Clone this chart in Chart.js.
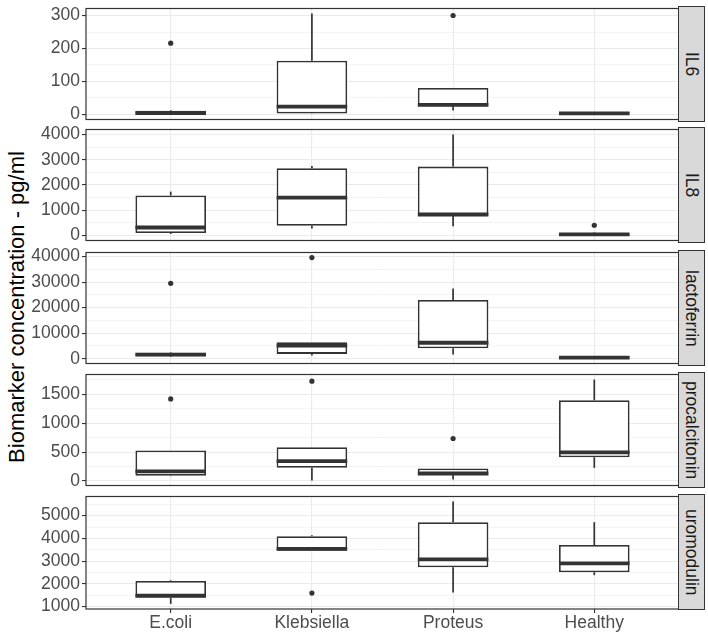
<!DOCTYPE html>
<html>
<head>
<meta charset="utf-8">
<script src="https://cdn.jsdelivr.net/npm/chart.js@4.4.1/dist/chart.umd.min.js"></script>
<style>
  html, body { margin: 0; padding: 0; background: #fff; }
  #wrap { position: relative; width: 708px; height: 635px; overflow: hidden; font-family: 'Liberation Sans', Arial, sans-serif; }
  #wrap canvas { position: absolute; left: 0; }
  .strip { position: absolute; left: 678px; width: 27px; background: #d9d9d9; border: 1.2px solid #333; box-sizing: border-box;
           display: flex; align-items: center; justify-content: center; }
  .strip span { writing-mode: vertical-rl; font-size: 17.5px; color: #1a1a1a; white-space: nowrap; }
  #ytitle { position: absolute; left: 17px; top: 307px; transform: translate(-50%, -50%) rotate(-90deg);
            white-space: nowrap; font-size: 22px; color: #000; }
</style>
</head>
<body>
<div id="wrap">
  <div id="ytitle">Biomarker concentration - pg/ml</div>
</div>
<script>
// categories (x) and facet names
const categories = ['E.coli', 'Klebsiella', 'Proteus', 'Healthy'];
const panelNames = ['IL6', 'IL8', 'lactoferrin', 'procalcitonin', 'uromodulin'];

// box statistics, one row per panel, one value per category
const whiskerLow = [
  [0, 2, 12, 0],
  [60, 278, 366, 0],
  [700, 1270, 1650, 100],
  [84, 10, 28, 228],
  [1115, 3460, 1617, 2381]
];
const quart1 = [
  [0.5, 3, 25, 1],
  [100, 381, 790, 10],
  [1000, 1875, 4100, 200],
  [90, 228, 105, 412],
  [1380, 3460, 2726, 2510]
];
const medians = [
  [4, 24, 29, 3],
  [316, 1497, 830, 40],
  [1600, 5100, 6250, 400],
  [167, 345, 130, 495],
  [1475, 3533, 3072, 2899]
];
const quart3 = [
  [11, 163, 80, 6],
  [1585, 2667, 2730, 80],
  [2300, 6400, 23000, 700],
  [530, 585, 217, 1400],
  [2122, 4094, 4712, 3706]
];
const whiskerHigh = [
  [13, 306, 80, 7],
  [1737, 2754, 4000, 120],
  [2500, 6400, 27500, 900],
  [530, 585, 217, 1757],
  [2150, 4137, 5618, 4712]
];
const outliers = [
  [216, null, 300, null],
  [null, null, null, 404],
  [29500, 39600, null, null],
  [1422, 1729, 736, null],
  [null, 1590, null, null]
];

// major y tick labels per panel
const yTicks = [
  [0, 100, 200, 300],
  [0, 1000, 2000, 3000, 4000],
  [0, 10000, 20000, 30000, 40000],
  [0, 500, 1000, 1500],
  [1000, 2000, 3000, 4000, 5000]
];

// layout of the facets
const panelTops = [6, 127, 250, 372, 494];
const panelHeight = 116;
const pad = 10;
const FONT = "'Liberation Sans', Arial, sans-serif";
const ink = '#333333';

Chart.defaults.font.family = FONT;

const boxExtras = {
  id: 'boxExtras',
  afterDatasetsDraw(chart, args, opts) {
    const p = opts.panel;
    const ctx = chart.ctx;
    const y = chart.scales.y;
    const meta = chart.getDatasetMeta(0);
    const seg = (x1, y1, x2, y2) => { ctx.beginPath(); ctx.moveTo(x1, y1); ctx.lineTo(x2, y2); ctx.stroke(); };
    ctx.save();
    ctx.strokeStyle = ink;
    meta.data.forEach((bar, i) => {
      const half = bar.width / 2;
      ctx.lineWidth = 1.7;
      seg(bar.x, y.getPixelForValue(quart3[p][i]), bar.x, y.getPixelForValue(whiskerHigh[p][i]));
      seg(bar.x, y.getPixelForValue(quart1[p][i]), bar.x, y.getPixelForValue(whiskerLow[p][i]));
      ctx.lineWidth = 3.8;
      const ym = y.getPixelForValue(medians[p][i]);
      seg(bar.x - half, ym, bar.x + half, ym);
    });
    const a = chart.chartArea;
    ctx.lineWidth = 1.2;
    ctx.strokeRect(a.left, a.top, a.right - a.left, a.bottom - a.top);
    ctx.restore();
  }
};

const wrap = document.getElementById('wrap');

panelNames.forEach((name, p) => {
  const isLast = p === panelNames.length - 1;
  const top = panelTops[p];
  const canvasTop = top - pad;
  const canvasH = isLast ? 635 - canvasTop : panelHeight + 2 * pad;

  const canvas = document.createElement('canvas');
  canvas.width = 708;
  canvas.height = canvasH;
  canvas.style.top = canvasTop + 'px';
  canvas.style.width = '708px';
  canvas.style.height = canvasH + 'px';
  wrap.appendChild(canvas);

  const strip = document.createElement('div');
  strip.className = 'strip';
  strip.style.top = top + 'px';
  strip.style.height = panelHeight + 'px';
  strip.innerHTML = '<span>' + name + '</span>';
  wrap.appendChild(strip);

  // ggplot-style 5% expansion of the data range
  const all = [].concat(whiskerLow[p], whiskerHigh[p], outliers[p].filter(v => v !== null));
  const lo = Math.min(...all), hi = Math.max(...all);
  const yMin = lo - 0.05 * (hi - lo), yMax = hi + 0.05 * (hi - lo);

  const majors = yTicks[p];
  const half = (majors[1] - majors[0]) / 2;
  const allTicks = [];
  for (let v = majors[0] - half; v <= yMax; v += half) {
    if (v >= yMin) allTicks.push(v);
  }
  const isMajor = v => majors.includes(v);

  new Chart(canvas, {
    type: 'bar',
    data: {
      datasets: [
        {
          type: 'bar',
          data: categories.map((c, i) => ({ x: i + 1, y: [quart1[p][i], quart3[p][i]] })),
          backgroundColor: '#ffffff',
          borderColor: ink,
          borderWidth: 1.8,
          borderSkipped: false,
          barPercentage: 0.5,
          categoryPercentage: 1
        },
        {
          type: 'scatter',
          data: outliers[p].map((v, i) => (v === null ? null : { x: i + 1, y: v })).filter(d => d),
          pointRadius: 2.6,
          pointBackgroundColor: ink,
          pointBorderWidth: 0
        }
      ]
    },
    options: {
      responsive: false,
      animation: false,
      devicePixelRatio: 1,
      layout: { padding: { top: pad, bottom: isLast ? 0 : pad, left: 0, right: 29 } },
      plugins: {
        legend: { display: false },
        tooltip: { enabled: false },
        boxExtras: { panel: p }
      },
      scales: {
        x: {
          type: 'linear',
          min: 0.4,
          max: 4.6,
          offset: false,
          afterBuildTicks: s => { s.ticks = categories.map((c, i) => ({ value: i + 1 })); },
          afterFit: s => { s.height = isLast ? 26 : 0; },
          ticks: {
            display: isLast,
            autoSkip: false,
            maxRotation: 0,
            padding: 0,
            color: '#4d4d4d',
            font: { size: 17.5 },
            callback: v => categories[v - 1]
          },
          grid: { offset: false, color: '#ebebeb', lineWidth: 1.1, drawTicks: isLast, tickLength: 4, tickColor: ink, tickWidth: 1.1 },
          border: { display: false }
        },
        y: {
          min: yMin,
          max: yMax,
          afterBuildTicks: s => { s.ticks = allTicks.map(v => ({ value: v })); },
          afterFit: s => { s.width = 86; },
          ticks: {
            autoSkip: false,
            padding: 2,
            color: '#4d4d4d',
            font: { size: 17.5 },
            callback: v => (isMajor(v) ? String(v) : '')
          },
          grid: {
            color: '#ebebeb',
            lineWidth: c => (c.tick && isMajor(c.tick.value) ? 1.1 : 0.55),
            tickLength: 4,
            tickColor: c => (c.tick && isMajor(c.tick.value) ? ink : 'rgba(0,0,0,0)'),
            tickWidth: 1.1
          },
          border: { display: false }
        }
      }
    },
    plugins: [boxExtras]
  });
});
</script>
</body>
</html>
